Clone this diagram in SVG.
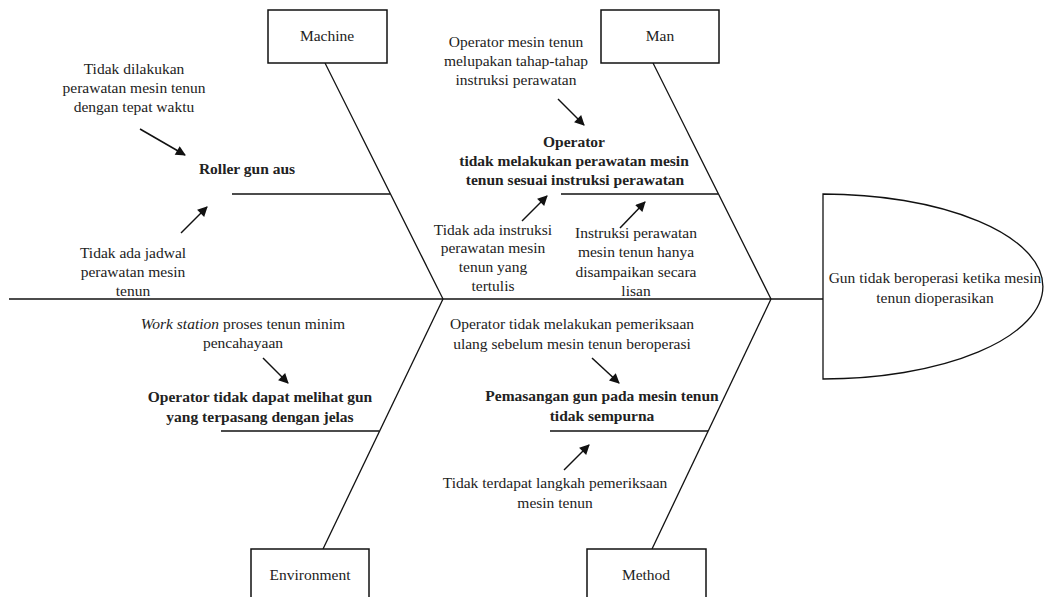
<svg xmlns="http://www.w3.org/2000/svg" width="1044" height="597" viewBox="0 0 1044 597">
<style>
.t{font-size:15.5px;fill:#222;text-anchor:middle}
.b{font-weight:bold}
.ln{stroke:#111;stroke-width:1.3;fill:none}
.box{fill:#fff;stroke:#111;stroke-width:1.5}
.ar{stroke:#111;stroke-width:1.5;fill:none;marker-end:url(#ah)}
</style>
<defs>
<marker id="ah" viewBox="0 0 10 10" refX="9" refY="5" markerUnits="userSpaceOnUse" markerWidth="11" markerHeight="10" orient="auto">
<path d="M0,0 L10,5 L0,10 z" fill="#111"/>
</marker>
</defs>
<rect width="1044" height="597" fill="#fff"/>
<g id="connectors">
<line class="ln" x1="9" y1="299" x2="823" y2="299"/>
<line class="ln" x1="325" y1="63" x2="443" y2="299"/>
<line class="ln" x1="653" y1="63" x2="771" y2="299"/>
<line class="ln" x1="323" y1="549" x2="443" y2="299"/>
<line class="ln" x1="652" y1="549" x2="771" y2="299"/>
<line class="ln" x1="232" y1="194" x2="390" y2="194"/>
<line class="ln" x1="561" y1="194" x2="718" y2="194"/>
<line class="ln" x1="221" y1="431" x2="379" y2="431"/>
<line class="ln" x1="550" y1="431" x2="708" y2="431"/>
<line class="ar" x1="140" y1="129" x2="185" y2="155"/>
<line class="ar" x1="181" y1="233" x2="207" y2="207"/>
<line class="ar" x1="558" y1="99" x2="584" y2="125"/>
<line class="ar" x1="522" y1="221" x2="547" y2="196"/>
<line class="ar" x1="620" y1="228" x2="645" y2="202"/>
<line class="ar" x1="263" y1="358" x2="288" y2="383"/>
<line class="ar" x1="592" y1="358" x2="619" y2="383"/>
<line class="ar" x1="564" y1="470" x2="589" y2="445"/>
</g>
<g font-family="Liberation Serif, DejaVu Serif, serif">
<g id="machine">
<rect class="box" x="268" y="10" width="119" height="53"/>
<text class="t" x="327" y="41">Machine</text>
</g>
<g id="man">
<rect class="box" x="601" y="10" width="118" height="53"/>
<text class="t" x="660" y="41">Man</text>
</g>
<g id="environment">
<rect class="box" x="251" y="549" width="118" height="54"/>
<text class="t" x="310" y="580">Environment</text>
</g>
<g id="method">
<rect class="box" x="587" y="549" width="119" height="54"/>
<text class="t" x="646" y="580">Method</text>
</g>
<g id="head">
<path class="ln" d="M823,194 A220,92.5 0 0 1 823,379 Z" fill="#fff"/>
<text class="t" x="935" y="283">Gun tidak beroperasi ketika mesin</text>
<text class="t" x="935" y="303">tenun dioperasikan</text>
</g>
<g id="roller-gun-aus">
<text class="t b" x="247" y="174">Roller gun aus</text>
</g>
<g id="tidak-dilakukan">
<text class="t" x="134" y="74">Tidak dilakukan</text>
<text class="t" x="134" y="93">perawatan mesin tenun</text>
<text class="t" x="134" y="112">dengan tepat waktu</text>
</g>
<g id="tidak-ada-jadwal">
<text class="t" x="133" y="258">Tidak ada jadwal</text>
<text class="t" x="133" y="277">perawatan mesin</text>
<text class="t" x="133" y="296">tenun</text>
</g>
<g id="operator-perawatan">
<text class="t b" x="574" y="147">Operator</text>
<text class="t b" x="574" y="166">tidak melakukan perawatan mesin</text>
<text class="t b" x="575" y="185">tenun sesuai instruksi perawatan</text>
</g>
<g id="operator-lupa">
<text class="t" x="516" y="47">Operator mesin tenun</text>
<text class="t" x="516" y="66">melupakan tahap-tahap</text>
<text class="t" x="516" y="85">instruksi perawatan</text>
</g>
<g id="tidak-ada-instruksi">
<text class="t" x="493" y="235">Tidak ada instruksi</text>
<text class="t" x="493" y="253">perawatan mesin</text>
<text class="t" x="493" y="272">tenun yang</text>
<text class="t" x="493" y="291">tertulis</text>
</g>
<g id="instruksi-lisan">
<text class="t" x="636" y="238">Instruksi perawatan</text>
<text class="t" x="636" y="257">mesin tenun hanya</text>
<text class="t" x="636" y="277">disampaikan secara</text>
<text class="t" x="636" y="296">lisan</text>
</g>
<g id="operator-tidak-melihat">
<text class="t b" x="260" y="402">Operator tidak dapat melihat gun</text>
<text class="t b" x="260" y="422">yang terpasang dengan jelas</text>
</g>
<g id="work-station">
<text class="t" x="243" y="329"><tspan font-style="italic">Work station</tspan> proses tenun minim</text>
<text class="t" x="243" y="348">pencahayaan</text>
</g>
<g id="pemasangan-gun">
<text class="t b" x="602" y="401">Pemasangan gun pada mesin tenun</text>
<text class="t b" x="602" y="421">tidak sempurna</text>
</g>
<g id="operator-pemeriksaan">
<text class="t" x="572" y="329">Operator tidak melakukan pemeriksaan</text>
<text class="t" x="572" y="349">ulang sebelum mesin tenun beroperasi</text>
</g>
<g id="tidak-terdapat-langkah">
<text class="t" x="555" y="488">Tidak terdapat langkah pemeriksaan</text>
<text class="t" x="555" y="508">mesin tenun</text>
</g>
</g>
</svg>
